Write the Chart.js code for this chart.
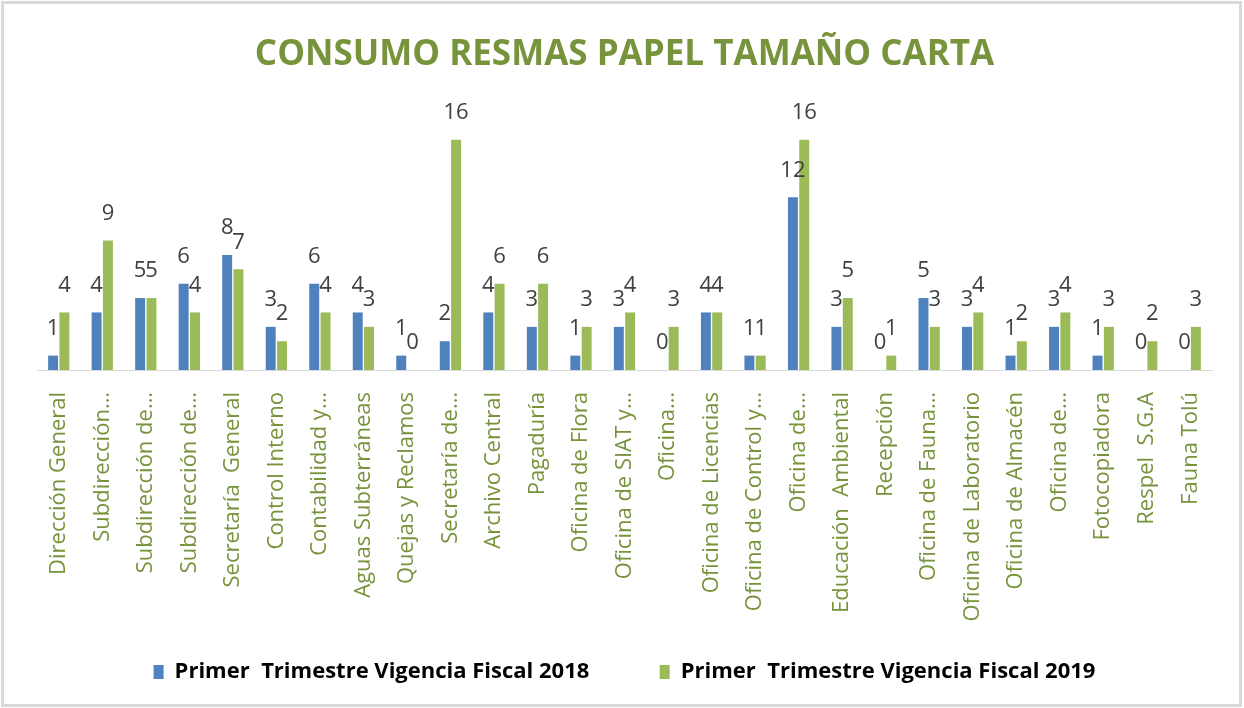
<!DOCTYPE html>
<html>
<head>
<meta charset="utf-8">
<script src="https://cdn.jsdelivr.net/npm/chart.js@4"></script>
<style>
  html, body { margin: 0; padding: 0; background: #fff; }
  #wrap { width: 1244px; height: 708px; }
</style>
</head>
<body>
<div id="wrap"><canvas id="myChart"></canvas></div>
<script>
// Dependencias
var categorias = ['Dirección General', 'Subdirección…', 'Subdirección de…', 'Subdirección de…',
  'Secretaría  General', 'Control Interno', 'Contabilidad y…', 'Aguas Subterráneas',
  'Quejas y Reclamos', 'Secretaría de…', 'Archivo Central', 'Pagaduría', 'Oficina de Flora',
  'Oficina de SIAT y…', 'Oficina…', 'Oficina de Licencias', 'Oficina de Control y…',
  'Oficina de…', 'Educación  Ambiental', 'Recepción', 'Oficina de Fauna…',
  'Oficina de Laboratorio', 'Oficina de Almacén', 'Oficina de…', 'Fotocopiadora',
  'Respel  S.G.A', 'Fauna Tolú'];

// Resmas consumidas
var vigencia2018 = [1, 4, 5, 6, 8, 3, 6, 4, 1, 2, 4, 3, 1, 3, 0, 4, 1, 12, 3, 0, 5, 3, 1, 3, 1, 0, 0];
var vigencia2019 = [4, 9, 5, 4, 7, 2, 4, 3, 0, 16, 6, 6, 3, 4, 3, 4, 1, 16, 5, 1, 3, 4, 2, 4, 3, 2, 3];

var series = ['Primer  Trimestre Vigencia Fiscal 2018', 'Primer  Trimestre Vigencia Fiscal 2019'];

var verde = '#77933C';

// Etiquetas de valor encima de cada barra
var etiquetas = {
  id: 'etiquetas',
  afterDatasetsDraw: function (chart) {
    var ctx = chart.ctx;
    ctx.save();
    ctx.font = '22px "Open Sans", sans-serif';
    ctx.fillStyle = '#404040';
    ctx.textAlign = 'center';
    ctx.textBaseline = 'middle';
    chart.data.datasets.forEach(function (ds, i) {
      chart.getDatasetMeta(i).data.forEach(function (bar, j) {
        ctx.fillText(String(ds.data[j]), bar.x, bar.y - 27);
      });
    });
    ctx.restore();
  }
};

// Marco gris del gráfico
var marco = {
  id: 'marco',
  beforeDraw: function (chart) {
    var ctx = chart.ctx;
    ctx.save();
    ctx.fillStyle = '#fff';
    ctx.fillRect(0, 0, chart.width, chart.height);
    ctx.strokeStyle = '#D9D9D9';
    ctx.lineWidth = 3;
    ctx.strokeRect(2.5, 2.5, chart.width - 6, chart.height - 5);
    ctx.restore();
  }
};

var ctx = document.getElementById('myChart').getContext('2d');

var config = {
  type: 'bar',
  data: {
    labels: categorias,
    datasets: [{
      label: series[0],
      data: vigencia2018,
      backgroundColor: '#4F81BD',
      categoryPercentage: 0.52,
      barPercentage: 0.88
    }, {
      label: series[1],
      data: vigencia2019,
      backgroundColor: '#9BBB59',
      categoryPercentage: 0.52,
      barPercentage: 0.88
    }]
  },
  options: {
    responsive: true,
    maintainAspectRatio: false,
    animation: false,
    layout: { padding: { top: 18, left: 37, right: 32, bottom: 15 } },
    scales: {
      x: {
        grid: { display: false },
        border: { display: true, color: '#D9D9D9', width: 1 },
        ticks: {
          color: verde,
          font: { family: '"Open Sans", sans-serif', size: 22 },
          minRotation: 90,
          maxRotation: 90,
          autoSkip: false,
          padding: 14
        },
        afterFit: function (scale) { scale.height = 255; }
      },
      y: {
        display: false,
        min: 0,
        max: 18
      }
    },
    plugins: {
      title: {
        display: true,
        text: 'CONSUMO RESMAS PAPEL TAMAÑO CARTA',
        color: verde,
        font: { family: '"Open Sans", sans-serif', size: 35, weight: 'bold' },
        padding: { top: 16, bottom: 35 }
      },
      legend: {
        position: 'bottom',
        labels: {
          color: '#000',
          font: { family: '"Open Sans", sans-serif', size: 22, weight: 'bold' },
          boxWidth: 10,
          boxHeight: 14,
          padding: 36,
          // separación extra entre las dos series
          generateLabels: function (chart) {
            var items = Chart.defaults.plugins.legend.labels.generateLabels(chart);
            items[0].text = items[0].text + '      ';
            return items;
          }
        }
      },
      tooltip: { enabled: false }
    }
  },
  plugins: [marco, etiquetas]
};

var myChart = new Chart(ctx, config);
</script>
</body>
</html>
